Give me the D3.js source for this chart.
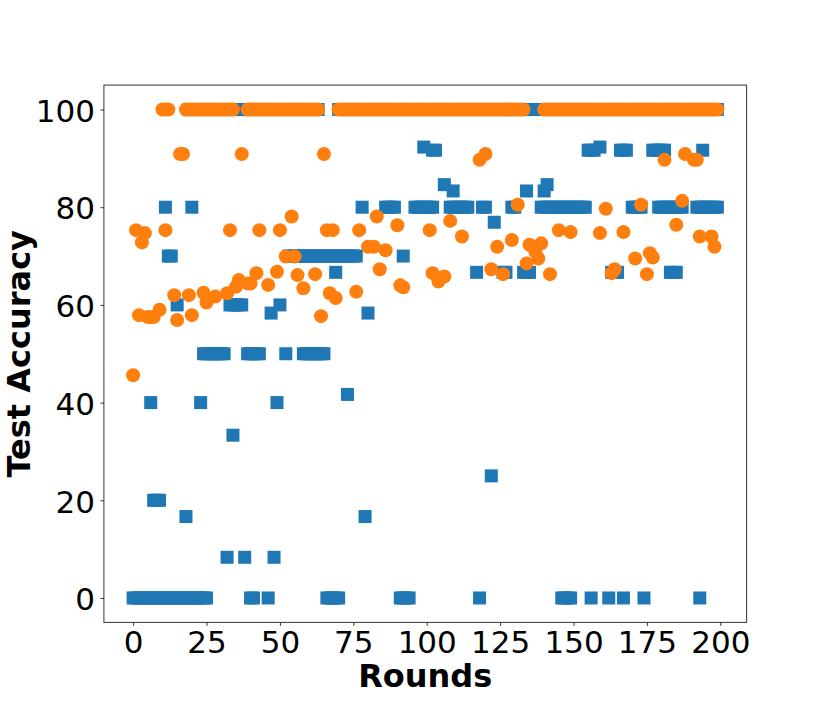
<!DOCTYPE html>
<html>
<head>
<meta charset="utf-8">
<script src="https://cdn.jsdelivr.net/npm/d3@7"></script>
<style>
  body { margin: 0; background: #fff; }
  svg { display: block; }
</style>
</head>
<body>
<div id="chart"></div>
<script>
// Blue squares: one list of rounds per accuracy level (several clients per round)
const blueLevels = [0, 8.33, 16.67, 20, 25, 33.33, 40, 41.67, 50, 58.33, 60, 66.67, 70, 76.92, 80, 83.33, 84.62, 91.67, 92.31, 100];
const blueRounds = [
  [0, 1, 2, 3, 4, 5, 6, 7, 8, 9, 10, 11, 12, 13, 14, 15, 16, 17, 18, 19, 20, 21, 22, 23, 24, 25,
   40, 41, 46, 66, 67, 68, 69, 70, 91, 92, 93, 94, 118, 146, 147, 148, 149, 156, 162, 167, 174, 193],
  [32, 38, 48],
  [18, 79],
  [7, 8, 9],
  [122],
  [34],
  [6, 23, 49],
  [73],
  [24, 25, 26, 27, 28, 29, 30, 31, 39, 40, 41, 42, 43, 52, 58, 59, 60, 61, 62, 63, 64, 65],
  [47, 80],
  [15, 33, 34, 35, 36, 37, 50],
  [69, 117, 126, 127, 133, 134, 135, 163, 164, 165, 183, 184, 185],
  [12, 13, 53, 54, 55, 56, 57, 58, 59, 60, 61, 62, 63, 64, 65, 66, 67, 68, 69, 70, 71, 72, 73, 74, 75, 76, 92],
  [123],
  [11, 20, 78, 86, 87, 88, 89, 96, 97, 98, 99, 100, 101, 102, 108, 109, 110, 111, 112, 113, 114, 119, 120,
   129, 130, 139, 140, 141, 142, 143, 144, 145, 146, 147, 148, 149, 150, 151, 152, 153, 154,
   170, 171, 172, 173, 179, 180, 181, 182, 183, 184, 185, 186, 187, 192, 193, 194, 195, 196, 197, 198, 199],
  [109, 134, 140],
  [106, 141],
  [102, 103, 155, 156, 157, 166, 167, 168, 177, 178, 179, 180, 181, 194],
  [99, 159],
  [19, 20, 21, 22, 23, 24, 25, 26, 27, 28, 29, 30, 31, 32, 33, 34, 35, 36, 37, 38, 39, 40, 41, 42, 43, 44,
   45, 46, 47, 48, 49, 50, 51, 52, 53, 54, 55, 56, 57, 58, 59, 60, 61, 62, 63,
   70, 71, 72, 73, 74, 75, 76, 77, 78, 79, 80, 81, 82, 83, 84, 85, 86, 87, 88, 89, 90, 91, 92, 93, 94, 95,
   96, 97, 98, 99, 100, 101, 102, 103, 104, 105, 106, 107, 108, 109, 110, 111, 112, 113, 114, 115, 116,
   117, 118, 119, 120, 121, 122, 123, 124, 125, 126, 127, 128, 129, 130, 131, 132, 133, 134, 135, 136, 137,
   140, 141, 142, 143, 144, 145, 146, 147, 148, 149, 150, 151, 152, 153, 154, 155, 156, 157, 158, 159,
   160, 161, 162, 163, 164, 165, 166, 167, 168, 169, 170, 171, 172, 173, 174, 175, 176, 177, 178, 179,
   180, 181, 182, 183, 184, 185, 186, 187, 188, 189, 190, 191, 192, 193, 194, 195, 196, 197, 198, 199]
];

// Orange circles at 100% accuracy
const orangeFullRounds = [
  10, 11, 12, 18, 19, 20, 21, 22, 23, 24, 25, 26, 27, 28, 29, 30, 31, 32, 33, 34,
  39, 40, 41, 42, 43, 44, 45, 46, 47, 48, 49, 50, 51, 52, 53, 54, 55, 56, 57, 58, 59, 60, 61, 62, 63,
  70, 71, 72, 73, 74, 75, 76, 77, 78, 79, 80, 81, 82, 83, 84, 85, 86, 87, 88, 89, 90, 91, 92, 93, 94, 95,
  96, 97, 98, 99, 100, 101, 102, 103, 104, 105, 106, 107, 108, 109, 110, 111, 112, 113, 114, 115, 116,
  117, 118, 119, 120, 121, 122, 123, 124, 125, 126, 127, 128, 129, 130, 131, 132, 133,
  140, 141, 142, 143, 144, 145, 146, 147, 148, 149, 150, 151, 152, 153, 154, 155, 156, 157, 158, 159,
  160, 161, 162, 163, 164, 165, 166, 167, 168, 169, 170, 171, 172, 173, 174, 175, 176, 177, 178, 179,
  180, 181, 182, 183, 184, 185, 186, 187, 188, 189, 190, 191, 192, 193, 194, 195, 196, 197, 198, 199
];
// Remaining orange circles, round and accuracy side by side
const orangeRounds = [
  0, 1, 2, 3, 4, 5, 6, 7, 9, 11, 14, 15, 16, 17, 19, 20, 24, 25, 28, 32, 33, 35, 36, 37, 39, 40,
  42, 43, 46, 49, 50, 52, 54, 55, 56, 58, 62, 64, 65, 66, 67, 68, 69, 76, 77, 80, 82, 83, 84, 86,
  90, 91, 92, 101, 102, 104, 106, 108, 112, 118, 120, 122, 124, 126, 129, 131, 134, 135, 137, 138,
  139, 142, 145, 149, 159, 161, 163, 164, 167, 171, 173, 175, 176, 177, 181, 185, 187, 188, 191,
  192, 193, 197, 198
];
const orangeAccuracy = [
  45.6, 75.3, 57.9, 72.8, 74.7, 57.5, 57.5, 57.5, 59.0, 75.3, 62.0, 56.9, 90.9, 90.9, 62.0, 57.9,
  62.5, 60.5, 61.7, 62.4, 75.3, 63.7, 65.1, 90.9, 64.4, 64.4,
  66.5, 75.3, 64.1, 66.8, 75.3, 69.9, 78.1, 69.9, 66.1, 63.4, 66.3, 57.7, 90.9, 75.3, 62.4, 75.3,
  61.4, 62.7, 75.3, 71.9, 71.9, 78.1, 67.3, 71.2,
  76.3, 64.0, 63.6, 75.3, 66.5, 64.8, 65.8, 77.2, 74.0, 89.7, 90.9, 67.3, 71.9, 66.3, 73.3, 80.5,
  68.5, 72.3, 70.9, 69.5,
  72.6, 66.3, 75.3, 74.9, 74.7, 79.7, 66.5, 67.3, 74.9, 69.5, 80.5, 66.3, 70.6, 69.7, 89.7, 76.4,
  81.3, 90.9, 89.7, 89.7, 74.0, 74.0, 71.9
];

const xTicks = [0, 25, 50, 75, 100, 125, 150, 175, 200];
const yTicks = [0, 20, 40, 60, 80, 100];

const W = 830, H = 712;
const plotLeft = 103.9, plotRight = 746.6, plotTop = 85.1, plotBottom = 622.4;
const BLUE = '#1f77b4';
const ORANGE = '#ff7f0e';

const svg = d3.select('#chart').append('svg')
  .attr('width', W)
  .attr('height', H)
  .style('background', '#fff');

const x = d3.scaleLinear().domain([-9.95, 208.95]).range([plotLeft, plotRight]);
const y = d3.scaleLinear().domain([-5, 105]).range([plotBottom, plotTop]);

const bluePoints = [];
blueLevels.forEach((v, i) => blueRounds[i].forEach(r => bluePoints.push({ r, v })));

const orangePoints = orangeRounds.map((r, i) => ({ r, v: orangeAccuracy[i] }));
orangeFullRounds.forEach(r => orangePoints.push({ r, v: 100 }));

const plot = svg.append('g');
const SQ = 13;

plot.selectAll('rect.blue')
  .data(bluePoints)
  .join('rect')
  .attr('class', 'blue')
  .attr('x', d => x(d.r) - SQ / 2)
  .attr('y', d => y(d.v) - SQ / 2)
  .attr('width', SQ)
  .attr('height', SQ)
  .attr('fill', BLUE);

plot.selectAll('circle.orange')
  .data(orangePoints)
  .join('circle')
  .attr('class', 'orange')
  .attr('cx', d => x(d.r))
  .attr('cy', d => y(d.v))
  .attr('r', 7)
  .attr('fill', ORANGE);

// frame
svg.append('rect')
  .attr('x', plotLeft)
  .attr('y', plotTop)
  .attr('width', plotRight - plotLeft)
  .attr('height', plotBottom - plotTop)
  .attr('fill', 'none')
  .attr('stroke', '#333')
  .attr('stroke-width', 1);

const font = "'DejaVu Sans', sans-serif";

const xAxis = svg.append('g')
  .attr('transform', `translate(0,${plotBottom})`)
  .call(d3.axisBottom(x).tickValues(xTicks).tickFormat(d3.format('d')).tickSize(3.5).tickSizeOuter(0).tickPadding(5.5));
xAxis.select('.domain').remove();
xAxis.selectAll('text').style('font-family', font).style('font-size', '31px').attr('fill', '#000');
xAxis.selectAll('line').attr('stroke', '#333');

const yAxis = svg.append('g')
  .attr('transform', `translate(${plotLeft},0)`)
  .call(d3.axisLeft(y).tickValues(yTicks).tickFormat(d3.format('d')).tickSize(3.5).tickSizeOuter(0).tickPadding(5.5));
yAxis.select('.domain').remove();
yAxis.selectAll('text').style('font-family', font).style('font-size', '31px').attr('fill', '#000').attr('dy', '0.38em');
yAxis.selectAll('line').attr('stroke', '#333');

svg.append('text')
  .attr('x', (plotLeft + plotRight) / 2)
  .attr('y', 687)
  .attr('text-anchor', 'middle')
  .style('font-family', font)
  .style('font-size', '32px')
  .style('font-weight', 'bold')
  .text('Rounds');

svg.append('text')
  .attr('transform', `translate(30,${(plotTop + plotBottom) / 2}) rotate(-90)`)
  .attr('text-anchor', 'middle')
  .style('font-family', font)
  .style('font-size', '32px')
  .style('font-weight', 'bold')
  .text('Test Accuracy');
</script>
</body>
</html>
